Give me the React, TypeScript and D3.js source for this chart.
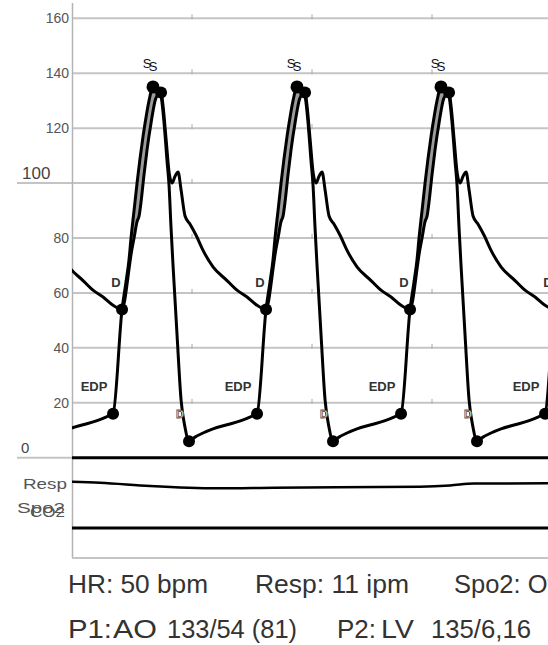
import * as d3 from "d3";

// one cardiac cycle, [ms after end-diastole, mmHg]
const lvBeat: [number, number][] = [
  [0, 16], [75, 54], [108, 64], [133, 72], [150, 80], [175, 90], [200, 100], [225, 109],
  [250, 117], [275, 124], [300, 130], [333, 135], [367, 134], [400, 131.5], [425, 122],
  [450, 108], [467, 99], [483, 84], [500, 70], [533, 45], [567, 21], [600, 11], [633, 6],
  [683, 7.5], [750, 9], [833, 10.5], [950, 12], [1067, 13.5], [1150, 15],
];
const aoBeat: [number, number][] = [
  [0, 55.5], [75, 54], [100, 58], [125, 66], [150, 74], [175, 80], [200, 86], [217, 88],
  [233, 93], [258, 103], [283, 112], [317, 122], [358, 131], [400, 133], [417, 128],
  [442, 116], [467, 104], [492, 100], [517, 102.5], [542, 104], [567, 97.5], [600, 88],
  [642, 85], [692, 81], [750, 75.5], [833, 69.5], [950, 64.5], [1033, 61], [1117, 58.5],
];
// end-diastole time of each beat on the sweep, ms
const beatOnsets = [-858, 342, 1542, 2742, 3942];

const respTrace: [number, number][] = [
  [0, 0.83], [233, 0.73], [650, 0.4], [1208, 0.17], [1683, 0.23], [2900, 0.33],
  [3150, 0.45], [3350, 0.65], [4000, 0.67],
];
const co2Trace: [number, number][] = [[0, 0], [4000, 0]];

const gridValues = [20, 40, 60, 80, 100, 120, 140, 160];
const tickLabels = [20, 40, 60, 80, 120, 140, 160];
const secondTicks = [1000, 2000, 3000];

// beat annotations: [text, ms after end-diastole, mmHg]
const beatLabels: [string, number, number][] = [
  ["EDP", -158, 26],
  ["D", 25, 64],
  ["S", 283, 143.7],
  ["S", 333, 142.6],
  ["d", 558, 16],
];

const W = 548;
const H = 645;
const FONT = "'Liberation Sans', Arial, sans-serif";

const x = d3.scaleLinear().domain([0, 4000]).range([72, 552]);
const y = d3.scaleLinear().domain([0, 160]).range([457.7, 18.3]);
const respY = d3.scaleLinear().domain([0, 1]).range([490, 480]);
const co2Y = d3.scaleLinear().domain([-1, 1]).range([538, 518]);

const line = d3
  .line<[number, number]>()
  .x((d) => x(d[0]))
  .y((d) => y(d[1]))
  .curve(d3.curveMonotoneX);
const flat = d3.line<[number, number]>().x((d) => x(d[0])).y((d) => y(d[1]));

const shift = (beat: [number, number][], t0: number) =>
  beat.map(([t, p]) => [t0 + t, p] as [number, number]);

const lvSeries = beatOnsets.flatMap((t0) => shift(lvBeat, t0));
const aoSeries = beatOnsets.flatMap((t0) => shift(aoBeat, t0));

// key points of a cycle
const edp = lvBeat[0];
const aoMin = d3.least(aoBeat, (d) => d[1])!;
const lvPeak = d3.greatest(lvBeat, (d) => d[1])!;
const aoPeak = d3.greatest(aoBeat, (d) => d[1])!;
const lvMin = d3.least(lvBeat.filter((d) => d[0] > lvPeak[0]), (d) => d[1])!;
const markers = [edp, aoMin, lvPeak, aoPeak, lvMin];

// ejection gradient: LV above AO
const ejection = (t0: number) => {
  const lv = lvBeat.filter((d) => d[0] >= aoMin[0] && d[0] <= aoPeak[0]);
  const ao = aoBeat.filter((d) => d[0] >= aoMin[0] && d[0] <= aoPeak[0]).reverse();
  return flat(shift([...lv, ...ao], t0)) + "Z";
};

function BeatLabel({ text, t, p }: { text: string; t: number; p: number }) {
  const common = { x: x(t), y: y(p), dy: "0.36em", textAnchor: "middle" as const };
  if (text === "d")
    return (
      <text {...common} fontSize={11} fontWeight="bold" fill="#fff" stroke="#555" strokeWidth={0.8}>D</text>
    );
  if (text === "S")
    return <text {...common} fontSize={13} fill="#111">S</text>;
  return <text {...common} fontSize={13} fontWeight="bold" fill="#333">{text}</text>;
}

export default function App() {
  const labels = beatOnsets.flatMap((t0) =>
    beatLabels
      .map(([text, dt, p]) => ({ text, t: t0 + dt, p }))
      .filter((d) => x(d.t) > 80 && x(d.t) < W + 4)
  );
  return (
    <div style={{ position: "absolute", left: 0, top: 0 }}>
      <svg width={W} height={H} style={{ display: "block", background: "#fff" }} fontFamily={FONT}>
        <defs>
          <clipPath id="plot">
            <rect x={72} y={0} width={W - 72} height={560} />
          </clipPath>
        </defs>

        {/* grid */}
        {gridValues.map((v) => (
          <line key={v} x1={v === 100 ? 17 : 72} x2={W} y1={y(v)} y2={y(v)} stroke="#c4c4c4" strokeWidth={2} />
        ))}
        <line x1={17} x2={72} y1={y(0)} y2={y(0)} stroke="#c4c4c4" strokeWidth={2} />
        {gridValues.map((v) =>
          secondTicks.map((t) => (
            <line key={v + "-" + t} x1={x(t)} x2={x(t)} y1={y(v) - 4} y2={y(v) + 1} stroke="#aaa" strokeWidth={1} />
          ))
        )}
        <line x1={72.5} x2={72.5} y1={3} y2={558} stroke="#b4b4b4" strokeWidth={1.5} />
        <line x1={72} x2={W} y1={558} y2={558} stroke="#c4c4c4" strokeWidth={2} />

        {/* y labels */}
        {tickLabels.map((v) => (
          <text key={v} x={69} y={y(v)} dy="0.36em" textAnchor="end" fontSize={14} fill="#555">
            {v}
          </text>
        ))}
        <text x={22} y={178.5} fontSize={17} fill="#444">100</text>
        <text x={21} y={452.5} fontSize={15} fill="#444">0</text>

        <g clipPath="url(#plot)">
          {beatOnsets.map((t0) => (
            <path key={t0} d={ejection(t0)} fill="#9c9c9c" />
          ))}
          <path d={line(aoSeries)!} fill="none" stroke="#000" strokeWidth={3} strokeLinejoin="round" />
          <path d={line(lvSeries)!} fill="none" stroke="#000" strokeWidth={3} strokeLinejoin="round" />
          {beatOnsets.map((t0) =>
            markers.map(([t, p], i) => (
              <circle key={t0 + "-" + i} cx={x(t0 + t)} cy={y(p)} r={i === 2 ? 6.5 : 6} fill="#000" />
            ))
          )}

          {labels.map((d, i) => (
            <BeatLabel key={i} {...d} />
          ))}

          {/* lower channels */}
          <line x1={x(0)} x2={W} y1={y(0)} y2={y(0)} stroke="#000" strokeWidth={3} />
          <path
            d={d3.line<[number, number]>().x((d) => x(d[0])).y((d) => respY(d[1])).curve(d3.curveMonotoneX)(respTrace)!}
            fill="none"
            stroke="#000"
            strokeWidth={2.5}
          />
          <path
            d={d3.line<[number, number]>().x((d) => x(d[0])).y((d) => co2Y(d[1]))(co2Trace)!}
            fill="none"
            stroke="#000"
            strokeWidth={3}
          />
        </g>

        <text x={67} y={488.5} textAnchor="end" fontSize={15} fill="#555" textLength={44} lengthAdjust="spacingAndGlyphs">Resp</text>
        <text x={17} y={513} fontSize={15} fill="#555" textLength={48} lengthAdjust="spacingAndGlyphs">Spo2</text>
        <text x={30} y={516.5} fontSize={15} fill="#555" textLength={35} lengthAdjust="spacingAndGlyphs">CO2</text>

        {/* readouts */}
        <g fontSize={25.5} fill="#333">
          <text x={68} y={593} textLength={140} lengthAdjust="spacingAndGlyphs">HR: 50 bpm</text>
          <text x={255} y={593} textLength={154} lengthAdjust="spacingAndGlyphs">Resp: 11 ipm</text>
          <text x={454} y={593}>Spo2: Off</text>
          <text x={68} y={638} textLength={44} lengthAdjust="spacingAndGlyphs">P1:</text>
          <text x={113} y={638} textLength={44} lengthAdjust="spacingAndGlyphs">AO</text>
          <text x={167} y={638} textLength={130} lengthAdjust="spacingAndGlyphs">133/54 (81)</text>
          <text x={337} y={638} textLength={39} lengthAdjust="spacingAndGlyphs">P2:</text>
          <text x={381} y={638} textLength={33} lengthAdjust="spacingAndGlyphs">LV</text>
          <text x={431} y={638} textLength={100} lengthAdjust="spacingAndGlyphs">135/6,16</text>
        </g>
      </svg>
    </div>
  );
}
